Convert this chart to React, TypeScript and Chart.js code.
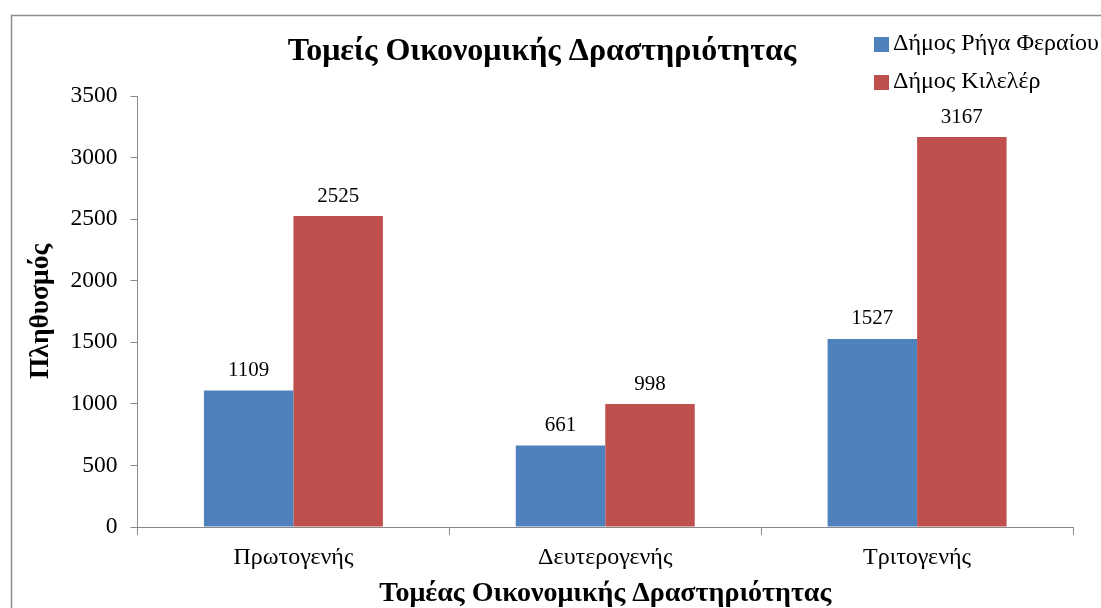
import React, { useEffect, useRef } from "react";
import { Chart, registerables } from "chart.js";

Chart.register(...registerables);

const chartTitle = "Τομείς Οικονομικής Δραστηριότητας";
const xAxisTitle = "Τομέας Οικονομικής Δραστηριότητας";
const yAxisTitle = "Πληθυσμός";
const categories = ["Πρωτογενής", "Δευτερογενής", "Τριτογενής"];
const seriesNames = ["Δήμος Ρήγα Φεραίου", "Δήμος Κιλελέρ"];
const rigaFeraiouValues = [1109, 661, 1527];
const kilelerValues = [2525, 998, 3167];
const seriesColors = ["#4F81BD", "#C0504D"];
const yMin = 0;
const yMax = 3500;
const yStep = 500;

const FONT = "'Liberation Serif', 'Times New Roman', 'DejaVu Serif', serif";
const AXIS_GRAY = "#8a8a8a";

const framePlugin = {
  id: "frame",
  beforeDraw(chart: any) {
    const { ctx, width, height } = chart;
    ctx.save();
    ctx.fillStyle = "#ffffff";
    ctx.fillRect(0, 0, width, height);
    ctx.strokeStyle = "#8c8c8c";
    ctx.lineWidth = 1.5;
    ctx.strokeRect(11.5, 15.5, width + 20, height + 20);
    ctx.restore();
  },
};

const valueLabelPlugin = {
  id: "valueLabels",
  afterDatasetsDraw(chart: any) {
    const { ctx } = chart;
    ctx.save();
    ctx.font = `21px ${FONT}`;
    ctx.fillStyle = "#000";
    ctx.textAlign = "center";
    ctx.textBaseline = "middle";
    chart.data.datasets.forEach((ds: any, i: number) => {
      const meta = chart.getDatasetMeta(i);
      meta.data.forEach((el: any, j: number) => {
        ctx.fillText(String(ds.data[j]), el.x, el.y - 20);
      });
    });
    ctx.restore();
  },
};

const legendPlugin = {
  id: "customLegend",
  afterDraw(chart: any) {
    const { ctx } = chart;
    ctx.save();
    ctx.font = `24px ${FONT}`;
    ctx.textBaseline = "middle";
    ctx.textAlign = "left";
    const x0 = 874;
    const yStart = 44;
    const gap = 38;
    chart.data.datasets.forEach((ds: any, i: number) => {
      const y = yStart + i * gap;
      ctx.fillStyle = ds.backgroundColor;
      ctx.fillRect(x0, y - 7, 15, 15);
      ctx.fillStyle = "#000";
      ctx.fillText(ds.label, x0 + 19, y);
    });
    ctx.restore();
  },
};

export default function App() {
  const canvasRef = useRef<HTMLCanvasElement | null>(null);

  useEffect(() => {
    document.body.style.margin = "0";
    const canvas = canvasRef.current;
    if (!canvas) return;
    const chart = new Chart(canvas, {
      type: "bar",
      data: {
        labels: categories,
        datasets: [
          {
            label: seriesNames[0],
            data: rigaFeraiouValues,
            backgroundColor: seriesColors[0],
            categoryPercentage: 0.574,
            barPercentage: 1,
          },
          {
            label: seriesNames[1],
            data: kilelerValues,
            backgroundColor: seriesColors[1],
            categoryPercentage: 0.574,
            barPercentage: 1,
          },
        ],
      },
      options: {
        responsive: false,
        animation: false,
        devicePixelRatio: 1,
        layout: { padding: { left: 11, right: 28, top: 0, bottom: 0 } },
        plugins: {
          legend: { display: false },
          tooltip: { enabled: false },
          title: {
            display: true,
            text: chartTitle,
            color: "#000",
            font: { family: FONT, size: 32, weight: "bold", lineHeight: 1.0 },
            padding: { top: 36, bottom: 28 },
          },
        },
        scales: {
          x: {
            grid: {
              display: true,
              drawOnChartArea: false,
              drawTicks: true,
              tickLength: 8,
              color: AXIS_GRAY,
              offset: true,
            },
            border: { display: true, color: AXIS_GRAY, width: 1 },
            ticks: {
              color: "#000",
              font: { family: FONT, size: 24, lineHeight: 1.0 },
              padding: 10.5,
              maxRotation: 0,
            },
            title: {
              display: true,
              text: xAxisTitle,
              color: "#000",
              font: { family: FONT, size: 28, weight: "bold", lineHeight: 1.0 },
              padding: { top: 0, bottom: 0 },
            },
          },
          y: {
            min: yMin,
            max: yMax,
            grid: {
              display: true,
              drawOnChartArea: false,
              drawTicks: true,
              tickLength: 7,
              color: AXIS_GRAY,
            },
            border: { display: true, color: AXIS_GRAY, width: 1 },
            ticks: {
              stepSize: yStep,
              color: "#000",
              font: { family: FONT, size: 23.5 },
              padding: 13,
              callback: (v: any) => String(v),
            },
            title: {
              display: true,
              text: yAxisTitle,
              color: "#000",
              font: { family: FONT, size: 27.5, weight: "bold", lineHeight: 1.0 },
              padding: { top: 16, bottom: 3 },
            },
          },
        },
      },
      plugins: [framePlugin, valueLabelPlugin, legendPlugin],
    });
    return () => chart.destroy();
  }, []);

  return (
    <div style={{ position: "absolute", left: 0, top: 0, width: 1101, height: 608 }}>
      <canvas ref={canvasRef} width={1101} height={608} />
    </div>
  );
}
